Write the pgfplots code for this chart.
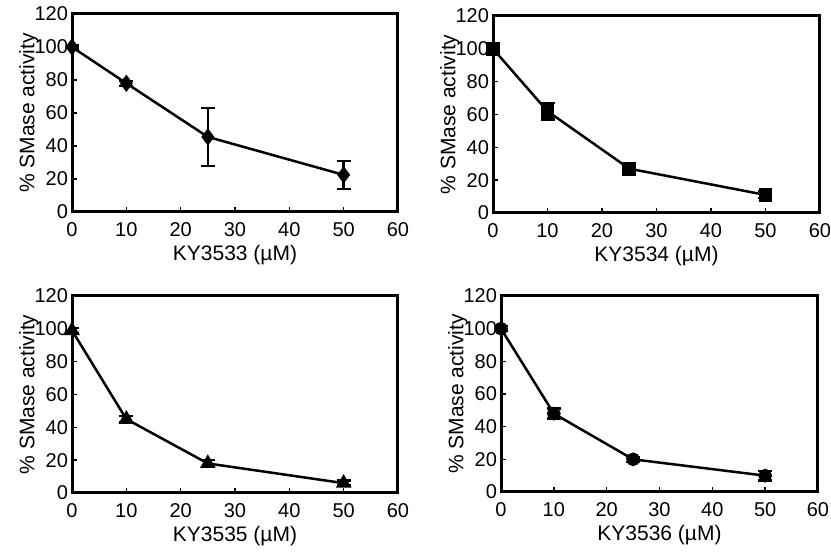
\documentclass[border=0pt]{standalone}
\usepackage{fontspec}
\setmainfont{Liberation Sans}
\usepackage{pgfplots}
\pgfplotsset{compat=1.18}

\pgfplotsset{
  ky/.style={
    scale only axis,
    xmin=0, xmax=60, ymin=0, ymax=120,
    xtick={0,10,...,60}, ytick={0,20,...,120},
    tick align=inside, xtick pos=bottom, ytick pos=left,
    major tick length=2.5pt,
    axis line style={line width=1.5pt},
    tick style={line width=0.8pt, black},
    /pgf/number format/assume math mode=true,
    tick label style={font=\fontsize{10pt}{11pt}\selectfont},
    xticklabel style={yshift=-1.5pt},
    yticklabel style={xshift=1.5pt},
    label style={font=\fontsize{10.5pt}{12pt}\selectfont},
    ylabel={\% SMase activity},
    ylabel style={yshift=-9pt},
    xlabel style={yshift=2.5pt},
    every axis plot/.append style={black, line width=1.25pt,
      error bars/y dir=both, error bars/y explicit,
      error bars/error bar style={line width=1.2pt},
      error bars/error mark options={rotate=90, mark size=3.5pt, line width=1.2pt}},
  }
}

\begin{document}
\begin{tikzpicture}
\begin{axis}[ky, at={(36pt,172pt)}, anchor=south west, width=163pt, height=99pt,
  xlabel={KY3533 (µM)}]
\addplot[mark=diamond*, mark size=3.3pt]
  coordinates {(0,100) +- (0,1) (10,78) +- (0,1.5) (25,45.5) +- (0,17.5) (50,22.5) +- (0,8.5)};
\end{axis}

\begin{axis}[ky, at={(246.5pt,171.5pt)}, anchor=south west, width=163.5pt, height=98.5pt,
  xlabel={KY3534 (µM)}]
\addplot[mark=square*, mark size=2.8pt]
  coordinates {(0,100) +- (0,1.5) (10,62) +- (0,5) (25,27) +- (0,1.5) (50,11) +- (0,2)};
\end{axis}

\begin{axis}[ky, at={(36pt,31.5pt)}, anchor=south west, width=163pt, height=98.5pt,
  xlabel={KY3535 (µM)}]
\addplot[mark=triangle*, mark size=3.3pt]
  coordinates {(0,99) +- (0,1.5) (10,45) +- (0,2) (25,18) +- (0,2) (50,6) +- (0,1.5)};
\end{axis}

\begin{axis}[ky, at={(250.5pt,32pt)}, anchor=south west, width=158.5pt, height=98pt,
  xlabel={KY3536 (µM)}]
\addplot[mark=*, mark size=2.8pt]
  coordinates {(0,100) +- (0,1.5) (10,48) +- (0,3) (25,20) +- (0,1.5) (50,10) +- (0,3)};
\end{axis}

\pgfresetboundingbox
\path (0,0) rectangle (415.5pt,278pt);
\end{tikzpicture}
\end{document}
